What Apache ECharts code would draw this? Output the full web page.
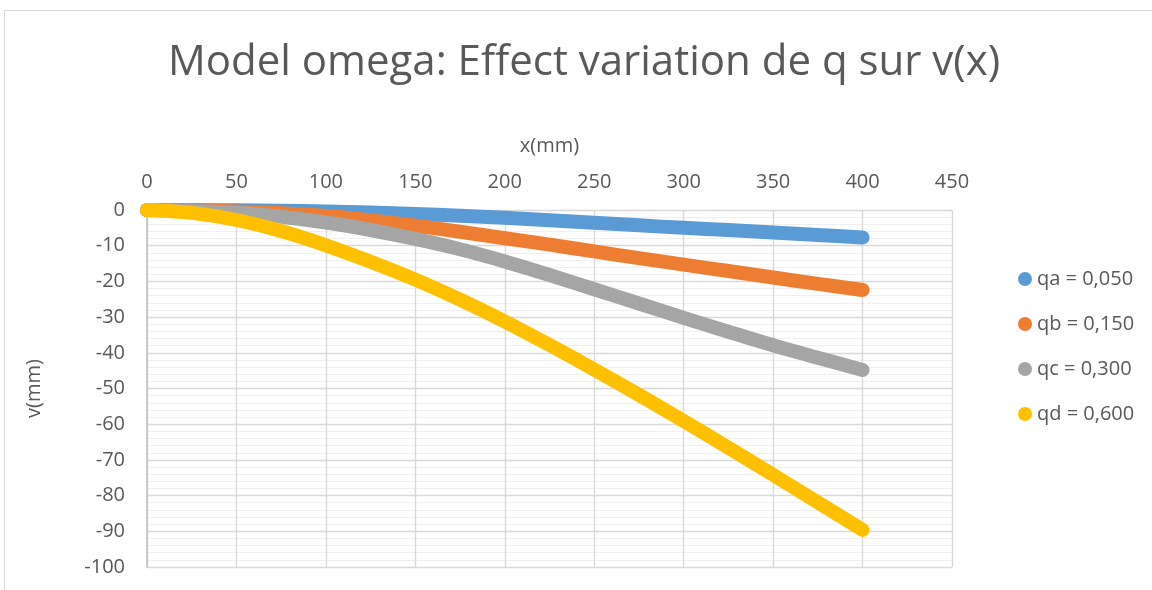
<!DOCTYPE html>
<html>
<head>
<meta charset="utf-8">
<script src="https://cdn.jsdelivr.net/npm/echarts@6/dist/echarts.min.js"></script>
<style>
html,body{margin:0;padding:0;background:#fff;}
#chart{width:1152px;height:590px;}
</style>
</head>
<body>
<div id="chart"></div>
<script>
const xValues = [0, 25, 50, 75, 100, 125, 150, 175, 200, 225, 250, 275, 300, 325, 350, 375, 400];
const qa = [0, 0, -0.1, -0.2, -0.4, -0.7, -1.1, -1.6, -2.2, -2.9, -3.6, -4.3, -5.0, -5.6, -6.3, -7.0, -7.7];
const qb = [0, -0.1, -0.4, -0.9, -1.7, -2.9, -4.4, -6.1, -7.9, -9.7, -11.6, -13.5, -15.3, -17.1, -18.9, -20.7, -22.4];
const qc = [0, -0.2, -0.8, -1.9, -3.5, -5.6, -8.1, -11.0, -14.4, -18.2, -22.2, -26.2, -30.2, -34.1, -37.9, -41.4, -44.8];
const qd = [0, -0.8, -2.8, -5.9, -9.9, -14.5, -19.5, -25.1, -31.2, -37.8, -44.7, -51.8, -59.1, -66.6, -74.2, -81.9, -89.6];
const seriesNames = ['qa = 0,050', 'qb = 0,150', 'qc = 0,300', 'qd = 0,600'];
const seriesColors = ['#5B9BD5', '#ED7D31', '#A5A5A5', '#FFC000'];
const titleText = 'Model omega: Effect variation de q sur v(x)';

const FONT = '"Open Sans", "Noto Sans", sans-serif';
const TXT = '#595959';

const chart = echarts.init(document.getElementById('chart'), null, {renderer: 'canvas'});
const allData = [qa, qb, qc, qd];

const option = {
  backgroundColor: '#ffffff',
  animation: false,
  textStyle: {fontFamily: FONT},
  graphic: [
    {type: 'rect', shape: {x: 4.5, y: 10.5, width: 1300, height: 700}, style: {fill: 'none', stroke: '#D9D9D9', lineWidth: 1}, silent: true, z: -1},
    {type: 'text', x: 584, y: 63, style: {text: titleText, fill: TXT, font: '42px ' + FONT, textAlign: 'center', textVerticalAlign: 'middle'}}
  ],
  legend: {
    orient: 'vertical',
    left: 1013,
    top: 264,
    icon: 'circle',
    itemWidth: 14,
    itemHeight: 14,
    itemGap: 25,
    data: seriesNames,
    textStyle: {color: TXT, fontSize: 20, fontFamily: FONT, lineHeight: 20}
  },
  grid: {left: 147, right: 200, top: 210, bottom: 23, containLabel: false},
  xAxis: {
    type: 'value',
    position: 'top',
    min: 0, max: 450, interval: 50,
    name: 'x(mm)',
    nameLocation: 'middle',
    nameGap: 54,
    nameTextStyle: {color: TXT, fontSize: 20, fontFamily: FONT},
    axisLine: {show: false},
    axisTick: {show: false},
    axisLabel: {color: TXT, fontSize: 20, margin: 18, fontFamily: FONT},
    splitLine: {show: true, lineStyle: {color: '#D9D9D9', width: 1.4}}
  },
  yAxis: {
    type: 'value',
    min: -100, max: 0, interval: 10,
    name: 'v(mm)',
    nameLocation: 'middle',
    nameRotate: 90,
    nameGap: 103,
    nameTextStyle: {color: TXT, fontSize: 20, fontFamily: FONT},
    axisLine: {show: true, onZero: false, lineStyle: {color: '#BFBFBF', width: 1.5}},
    axisTick: {show: false},
    axisLabel: {color: TXT, fontSize: 20, margin: 22, fontFamily: FONT},
    splitLine: {show: true, lineStyle: {color: '#D9D9D9', width: 1.4}},
    minorTick: {show: false, splitNumber: 5},
    minorSplitLine: {show: true, lineStyle: {color: '#F0F0F0', width: 1.2}}
  },
  series: seriesNames.map((name, i) => ({
    name: name,
    type: 'line',
    data: xValues.map((x, j) => [x, allData[i][j]]),
    smooth: 0.3,
    showSymbol: false,
    symbol: 'circle',
    itemStyle: {color: seriesColors[i]},
    lineStyle: {color: seriesColors[i], width: 14, cap: 'round', join: 'round'},
    z: 2 + i
  }))
};
chart.setOption(option);
</script>
</body>
</html>
